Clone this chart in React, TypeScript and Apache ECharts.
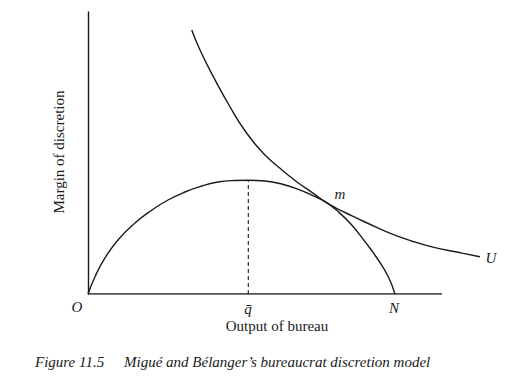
import React, { useEffect, useRef } from "react";
import * as echarts from "echarts";

// Budget-output hump (margin of discretion), x: output, y: margin
const humpCurve: [number, number][] = [
  [0, 0], [1.98, 6.13], [4.8, 12.77], [8.47, 19.15], [13.28, 25.18], [18.08, 29.79],
  [22.6, 33.33], [27.4, 36.17], [32.2, 38.3], [36.72, 39.72], [41.53, 40.25], [45.28, 40.35],
  [50, 40.07], [54.72, 39.0], [59.4, 37.13], [63.2, 35.1], [66.95, 32.73], [70.7, 29.18],
  [74.5, 24.47], [78.25, 18.55], [82.0, 12.06], [84.83, 6.13], [86.72, 0],
];

// Indifference curve U
const utilityCurve: [number, number][] = [
  [29.3, 93.6], [31.64, 86.5], [35.4, 77.06], [40.1, 66.4], [44.83, 57.0], [49.5, 49.9],
  [54.24, 44.57], [58.95, 39.82], [63.64, 35.7], [66.95, 32.73], [70.2, 30.4], [72.6, 28.9],
  [77.77, 25.8], [87.2, 20.6], [96.6, 16.9], [106, 14.4], [110.7, 13.2],
];

const qBar = 45.28;
const qBarHeight = 40.35;
const xAxisEnd = 100;
const yAxisEnd = 100;

const pointLabels = ["O", "q\u0304", "N", "m", "U"];
const axisTitles = ["Output of bureau", "Margin of discretion"];
const captionParts = ["Figure 11.5", "Migu\u00e9 and B\u00e9langer\u2019s bureaucrat discretion model"];

export default function App() {
  const ref = useRef<HTMLDivElement>(null);
  useEffect(() => {
    if (!ref.current) return;
    const chart = echarts.init(ref.current, undefined, { renderer: "svg" });
    const ink = "#1a1a1a";
    const serif = "'Liberation Serif', 'DejaVu Serif', serif";
    const italic = { fontFamily: serif, fontStyle: "italic", fontSize: 15, fill: ink };
    chart.setOption({
      animation: false,
      backgroundColor: "#ffffff",
      grid: { left: 88, right: 20.5, top: 12, bottom: 90 },
      xAxis: {
        type: "value", min: 0, max: 112,
        axisLine: { show: false }, axisTick: { show: false }, axisLabel: { show: false }, splitLine: { show: false },
      },
      yAxis: {
        type: "value", min: 0, max: yAxisEnd,
        axisLine: { show: true, lineStyle: { color: ink, width: 1.4 } },
        axisTick: { show: false }, axisLabel: { show: false }, splitLine: { show: false },
      },
      series: [
        {
          type: "line", data: [[0, 0], [xAxisEnd, 0]], symbol: "none",
          lineStyle: { color: ink, width: 1.4 }, silent: true,
        },
        {
          type: "line", data: humpCurve, smooth: 0.5, symbol: "none",
          lineStyle: { color: ink, width: 1.4 },
        },
        {
          type: "line", data: utilityCurve, smooth: 0.5, symbol: "none",
          lineStyle: { color: ink, width: 1.4 },
        },
        {
          type: "line", data: [[qBar, 0], [qBar, qBarHeight]], symbol: "none",
          lineStyle: { color: ink, width: 1.1, type: [4, 3] },
        },
      ],
      graphic: [
        { type: "text", x: 77, y: 307, style: { ...italic, text: pointLabels[0], textAlign: "center", textVerticalAlign: "middle" } },
        { type: "text", x: 248, y: 309, style: { ...italic, text: pointLabels[1], textAlign: "center", textVerticalAlign: "middle" } },
        { type: "text", x: 394, y: 308, style: { ...italic, text: pointLabels[2], textAlign: "center", textVerticalAlign: "middle" } },
        { type: "text", x: 340, y: 194, style: { ...italic, text: pointLabels[3], textAlign: "center", textVerticalAlign: "middle" } },
        { type: "text", x: 491, y: 258, style: { ...italic, text: pointLabels[4], textAlign: "center", textVerticalAlign: "middle" } },
        { type: "text", x: 277, y: 326, style: { fontFamily: serif, fontSize: 15, fill: ink, text: axisTitles[0], textAlign: "center", textVerticalAlign: "middle" } },
        { type: "text", x: 59, y: 152, rotation: Math.PI / 2, style: { fontFamily: serif, fontSize: 15, fill: ink, text: axisTitles[1], textAlign: "center", textVerticalAlign: "middle" } },
        { type: "text", x: 35, y: 362, style: { ...italic, text: captionParts[0], textAlign: "left", textVerticalAlign: "middle" } },
        { type: "text", x: 124, y: 362, style: { ...italic, text: captionParts[1], textAlign: "left", textVerticalAlign: "middle" } },
      ],
    });
    return () => chart.dispose();
  }, []);
  return <div ref={ref} style={{ position: "fixed", left: 0, top: 0, width: 505, height: 384 }} />;
}
